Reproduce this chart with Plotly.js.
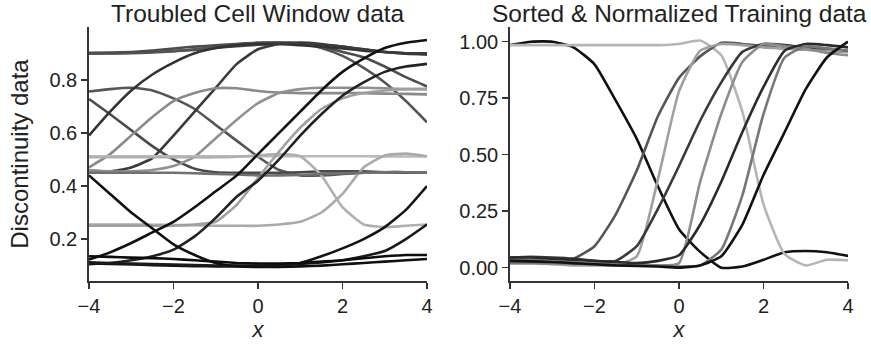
<!DOCTYPE html>
<html><head><meta charset="utf-8">
<script src="https://cdn.plot.ly/plotly-3.0.1.min.js"></script>
<style>html,body{margin:0;padding:0;background:#fff}#plot{width:871px;height:352px}</style>
</head><body><div id="plot"></div>
<script>
const xs = [-4,-3.5,-3,-2.5,-2,-1.5,-1,-0.5,0,0.5,1,1.5,2,2.5,3,3.5,4];

// Left panel: troubled cell window data
const leftSeries = [
  {c:'#454545', y:[0.900,0.900,0.902,0.905,0.908,0.913,0.920,0.927,0.932,0.935,0.935,0.932,0.925,0.915,0.905,0.898,0.895]},
  {c:'#555555', y:[0.898,0.899,0.900,0.903,0.908,0.915,0.925,0.933,0.938,0.940,0.935,0.920,0.890,0.845,0.790,0.720,0.640]},
  {c:'#4d4d4d', y:[0.902,0.903,0.905,0.910,0.918,0.925,0.930,0.935,0.940,0.940,0.935,0.925,0.905,0.885,0.850,0.810,0.775]},
  {c:'#555555', y:[0.756,0.765,0.770,0.760,0.730,0.690,0.630,0.570,0.510,0.460,0.440,0.440,0.445,0.450,0.452,0.452,0.450]},
  {c:'#4a4a4a', y:[0.728,0.670,0.610,0.550,0.500,0.465,0.452,0.450,0.450,0.450,0.452,0.455,0.455,0.455,0.452,0.450,0.450]},
  {c:'#333333', y:[0.590,0.680,0.760,0.820,0.865,0.900,0.920,0.930,0.935,0.935,0.930,0.925,0.918,0.910,0.905,0.900,0.898]},
  {c:'#3a3a3a', y:[0.450,0.455,0.470,0.505,0.590,0.680,0.770,0.860,0.915,0.935,0.940,0.935,0.925,0.915,0.905,0.900,0.900]},
  {c:'#8a8a8a', y:[0.470,0.520,0.590,0.660,0.720,0.750,0.768,0.768,0.758,0.752,0.750,0.750,0.750,0.750,0.748,0.747,0.745]},
  {c:'#909090', y:[0.460,0.455,0.455,0.460,0.475,0.510,0.580,0.650,0.712,0.750,0.765,0.770,0.770,0.770,0.768,0.765,0.765]},
  {c:'#bbbbbb', y:[0.512,0.512,0.512,0.512,0.512,0.512,0.512,0.512,0.512,0.512,0.512,0.512,0.512,0.512,0.511,0.511,0.511]},
  {c:'#b0b0b0', y:[0.508,0.508,0.508,0.508,0.508,0.508,0.508,0.510,0.515,0.520,0.512,0.440,0.320,0.255,0.245,0.250,0.255]},
  {c:'#aaaaaa', y:[0.255,0.255,0.255,0.254,0.253,0.252,0.250,0.250,0.250,0.255,0.265,0.300,0.370,0.470,0.515,0.522,0.512]},
  {c:'#a0a0a0', y:[0.250,0.250,0.250,0.250,0.250,0.255,0.265,0.330,0.430,0.530,0.620,0.690,0.730,0.750,0.760,0.765,0.765]},
  {c:'#707070', y:[0.450,0.450,0.450,0.450,0.450,0.448,0.445,0.443,0.440,0.440,0.442,0.445,0.448,0.450,0.452,0.452,0.450]},
  {c:'#111111', y:[0.123,0.150,0.185,0.225,0.265,0.320,0.380,0.440,0.520,0.600,0.680,0.760,0.830,0.880,0.920,0.940,0.950]},
  {c:'#222222', y:[0.105,0.110,0.120,0.135,0.160,0.210,0.280,0.360,0.420,0.500,0.590,0.670,0.740,0.790,0.830,0.850,0.860]},
  {c:'#151515', y:[0.108,0.106,0.104,0.102,0.100,0.098,0.097,0.097,0.098,0.102,0.110,0.135,0.165,0.200,0.245,0.310,0.400]},
  {c:'#1a1a1a', y:[0.112,0.110,0.108,0.106,0.104,0.102,0.100,0.100,0.100,0.102,0.106,0.112,0.120,0.135,0.155,0.200,0.255]},
  {c:'#0d0d0d', y:[0.135,0.133,0.130,0.128,0.125,0.120,0.115,0.110,0.108,0.108,0.110,0.115,0.120,0.128,0.135,0.140,0.140]},
  {c:'#101010', y:[0.440,0.370,0.300,0.240,0.180,0.140,0.110,0.098,0.095,0.095,0.097,0.100,0.105,0.110,0.115,0.120,0.125]}
];

// Right panel: sorted & normalized training data
const rightSeries = [
  {c:'#111111', y:[0.985,1.000,1.000,0.975,0.900,0.740,0.570,0.360,0.170,0.070,0.000,0.005,0.035,0.068,0.074,0.068,0.052]},
  {c:'#b5b5b5', y:[0.985,0.985,0.985,0.985,0.985,0.985,0.985,0.985,0.990,1.005,0.940,0.690,0.280,0.060,0.010,0.035,0.033]},
  {c:'#555555', y:[0.035,0.035,0.030,0.040,0.095,0.235,0.430,0.670,0.840,0.935,0.995,0.990,0.980,0.970,0.965,0.960,0.955]},
  {c:'#a0a0a0', y:[0.020,0.020,0.015,0.010,0.010,0.012,0.050,0.390,0.780,0.960,0.990,0.985,0.975,0.970,0.965,0.960,0.955]},
  {c:'#3a3a3a', y:[0.045,0.048,0.045,0.040,0.030,0.030,0.095,0.260,0.450,0.650,0.820,0.955,0.990,0.985,0.975,0.970,0.960]},
  {c:'#8c8c8c', y:[0.030,0.030,0.030,0.025,0.020,0.020,0.015,0.010,0.020,0.380,0.680,0.910,0.990,0.980,0.970,0.950,0.940]},
  {c:'#2a2a2a', y:[0.045,0.045,0.040,0.035,0.030,0.025,0.020,0.030,0.055,0.190,0.380,0.600,0.800,0.960,0.990,0.985,0.975]},
  {c:'#777777', y:[0.020,0.020,0.020,0.018,0.015,0.012,0.010,0.008,0.005,0.010,0.080,0.320,0.680,0.930,0.980,0.970,0.960]},
  {c:'#111111', y:[0.030,0.028,0.025,0.020,0.015,0.010,0.008,0.005,0.000,0.010,0.050,0.190,0.410,0.600,0.790,0.930,1.000]}
];

const leftTitle = 'Troubled Cell Window data';
const rightTitle = 'Sorted & Normalized Training data';
const yLabel = 'Discontinuity data';
const xLabel = '<i>x</i>';
const xTicks = [-4,-2,0,2,4];
const xTickText = ['\u22124','\u22122','0','2','4'];
const leftYTicks = [0.2,0.4,0.6,0.8];
const rightYTicks = [0,0.25,0.5,0.75,1];

const FONT = 'Liberation Sans, Arial, sans-serif';
const traces = [];
leftSeries.forEach(s => traces.push({x:xs, y:s.y, xaxis:'x', yaxis:'y', mode:'lines',
  line:{color:s.c, width:2.6, shape:'spline', smoothing:0.5}, hoverinfo:'skip', showlegend:false}));
rightSeries.forEach(s => traces.push({x:xs, y:s.y, xaxis:'x2', yaxis:'y2', mode:'lines',
  line:{color:s.c, width:2.6, shape:'spline', smoothing:0.5}, hoverinfo:'skip', showlegend:false}));

const axBase = {showgrid:false, zeroline:false, showline:true, linecolor:'#333', linewidth:1.8,
  ticks:'outside', ticklen:6, tickwidth:1.6, tickcolor:'#333', tickfont:{family:FONT, size:20, color:'#222'}};

const layout = {
  width:871, height:352, paper_bgcolor:'#fff', plot_bgcolor:'#fff',
  margin:{l:89, r:23, t:27, b:70.5},
  font:{family:FONT, color:'#222'},
  xaxis: Object.assign({}, axBase, {domain:[0,0.4453], range:[-4,4], tickvals:xTicks, ticktext:xTickText,
    title:{text:xLabel, font:{family:FONT, size:22, color:'#222'}, standoff:4}}),
  yaxis: Object.assign({}, axBase, {range:[0.042,0.999], tickvals:leftYTicks, ticktext:leftYTicks.map(v=>v.toFixed(1)),
    title:{text:yLabel, font:{family:FONT, size:24, color:'#222'}, standoff:14}}),
  xaxis2: Object.assign({}, axBase, {domain:[0.5547,1], range:[-4,4], anchor:'y2', tickvals:xTicks, ticktext:xTickText,
    title:{text:xLabel, font:{family:FONT, size:22, color:'#222'}, standoff:4}}),
  yaxis2: Object.assign({}, axBase, {anchor:'x2', range:[-0.059,1.065], tickvals:rightYTicks, ticktext:rightYTicks.map(v=>v.toFixed(2))}),
  annotations:[
    {text:leftTitle, xref:'x domain', yref:'paper', x:0.5, y:1, yshift:-2, xanchor:'center', yanchor:'bottom', showarrow:false, font:{family:FONT, size:24.5, color:'#222'}},
    {text:rightTitle, xref:'x2 domain', yref:'paper', x:0.5, y:1, yshift:-2, xanchor:'center', yanchor:'bottom', showarrow:false, font:{family:FONT, size:24.5, color:'#222'}}
  ]
};
Plotly.newPlot('plot', traces, layout, {staticPlot:true, displayModeBar:false});
</script></body></html>
